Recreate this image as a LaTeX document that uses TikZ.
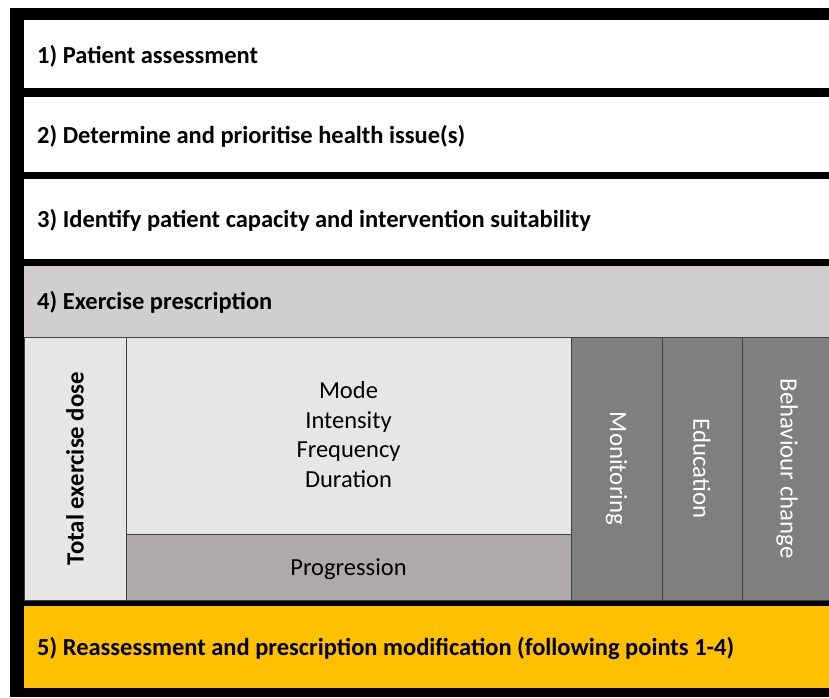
\documentclass[tikz,border=0pt]{standalone}
\usepackage{fontspec}
\setmainfont{Carlito}
\definecolor{rowgray}{HTML}{D0CECE}
\definecolor{lightgray}{HTML}{E7E6E6}
\definecolor{proggray}{HTML}{AEAAAA}
\definecolor{darkgray}{HTML}{7F7F7F}
\definecolor{gold}{HTML}{FFC000}
\definecolor{thinline}{HTML}{404040}
\tikzset{
  cell/.style={anchor=north west, inner sep=0pt, outer sep=0pt},
  heading/.style={anchor=west, inner sep=0pt, font=\fontsize{24.5}{28}\selectfont\bfseries},
  plain/.style={inner sep=0pt, font=\fontsize{24.5}{29.5}\selectfont, align=center},
  vert/.style={inner sep=0pt, font=\fontsize{24.8}{28}\selectfont, text=white, rotate=-90},
}
\begin{document}
\begin{tikzpicture}[x=1pt,y=-1pt]
\useasboundingbox (0,0) rectangle (829,697);
% frame
\fill[black] (10,8) rectangle (829,697);
% rows
\node[cell, fill=white, minimum width=805pt, minimum height=68pt] (r1) at (24,20) {};
\node[cell, fill=white, minimum width=805pt, minimum height=75pt] (r2) at (24,97) {};
\node[cell, fill=white, minimum width=805pt, minimum height=80pt] (r3) at (24,179) {};
\node[cell, fill=rowgray, minimum width=805pt, minimum height=71pt] (r4) at (24,266) {};
\node[cell, fill=gold, minimum width=805pt, minimum height=82pt] (r5) at (24,606) {};
% sub cells
\node[cell, fill=lightgray, draw=thinline, line width=0.8pt, minimum width=102pt, minimum height=263pt] (dose) at (24,337) {};
\node[cell, fill=lightgray, draw=thinline, line width=0.8pt, minimum width=445pt, minimum height=197pt] (params) at (126,337) {};
\node[cell, fill=proggray, draw=thinline, line width=0.8pt, minimum width=445pt, minimum height=66pt] (prog) at (126,534) {};
\node[cell, fill=darkgray, draw=thinline, line width=0.8pt, minimum width=91pt, minimum height=263pt] (mon) at (571,337) {};
\node[cell, fill=darkgray, draw=thinline, line width=0.8pt, minimum width=80pt, minimum height=263pt] (edu) at (662,337) {};
\node[cell, fill=darkgray, draw=thinline, line width=0.8pt, minimum width=90pt, minimum height=263pt] (beh) at (742,337) {};
\draw[thinline, line width=0.8pt] (r4.south west) -- (r4.south east);
% texts
\node[heading] (t1) at ([xshift=13pt,yshift=-2pt]r1.west) {1) Patient assessment};
\node[heading] (t2) at ([xshift=13pt,yshift=-2pt]r2.west) {2) Determine and prioritise health issue(s)};
\node[heading] (t3) at ([xshift=13pt,yshift=-1pt]r3.west) {3) Identify patient capacity and intervention suitability};
\node[heading] (t4) at ([xshift=13pt,yshift=-1pt]r4.west) {4) Exercise prescription};
\node[heading] (t5) at ([xshift=13pt,yshift=-1pt]r5.west) {5) Reassessment and prescription modification (following points 1-4)};
\node[inner sep=0pt, font=\fontsize{24.8}{28}\selectfont\bfseries, rotate=90] (tdose) at (dose.center) {Total exercise dose};
\node[plain] (tparams) at ([yshift=1pt]params.center) {Mode\\Intensity\\Frequency\\Duration};
\node[plain] (tprog) at ([yshift=-2pt]prog.center) {Progression};
\node[vert] (tmon) at (mon.center) {Monitoring};
\node[vert] (tedu) at (edu.center) {Education};
\node[vert] (tbeh) at (beh.center) {Behaviour change};
\end{tikzpicture}
\end{document}
